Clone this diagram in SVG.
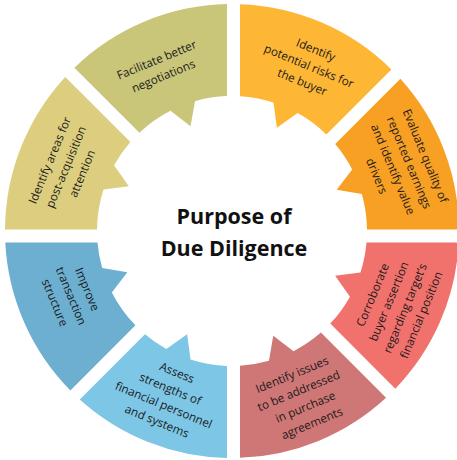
<svg xmlns="http://www.w3.org/2000/svg" width="457" height="460" viewBox="0 0 457 460">
<style>
.lbl{font-family:"Open Sans","Noto Sans","Liberation Sans",sans-serif;font-size:11.7px;fill:#1a1a1a;text-anchor:middle}
.ttl{font-family:"Open Sans","Noto Sans","Liberation Sans",sans-serif;font-size:21.5px;font-weight:700;fill:#111;text-anchor:middle}
</style>
<rect width="457" height="460" fill="#ffffff"/>
<g id="connectors"></g>
<g id="seg-risks">
<path fill="#fdb735" d="M240,4.14 A227,227 0 0 1 391.41,69.39 L326.35,134.45 A135,135 0 0 0 297.65,113.04 L276.86,127.83 L273.5,102.53 A135,135 0 0 0 240,96.24 Z"/>
<text class="lbl" transform="translate(309,66) rotate(22.5)"><tspan x="0" y="-13.5">Identify</tspan><tspan x="0" y="4">potential risks for</tspan><tspan x="0" y="21.5">the buyer</tspan></text>
</g>
<g id="seg-evaluate">
<path fill="#f8a024" d="M400.41,78.79 A227,227 0 0 1 459,229.5 L366.99,229.5 A135,135 0 0 0 361.83,194.01 L336.67,189.77 L352.18,169.49 A135,135 0 0 0 335.21,143.99 Z"/>
<text class="lbl" transform="translate(401,166) rotate(67.5)"><tspan x="0" y="-22.25">Evaluate quality of</tspan><tspan x="0" y="-4.75">reported earnings</tspan><tspan x="0" y="12.75">and identify value</tspan><tspan x="0" y="30.25">drivers</tspan></text>
</g>
<g id="seg-corroborate">
<path fill="#f1716d" d="M458.71,242.5 A227,227 0 0 1 395.34,388.64 L330.27,323.57 A135,135 0 0 0 349.96,296.65 L335.17,275.86 L360.47,272.5 A135,135 0 0 0 366.51,242.5 Z"/>
<text class="lbl" transform="translate(397,305) rotate(-67.5)"><tspan x="0" y="-22.25">Corroborate</tspan><tspan x="0" y="-4.75">buyer assertion</tspan><tspan x="0" y="12.75">regarding target’s</tspan><tspan x="0" y="30.25">financial position</tspan></text>
</g>
<g id="seg-issues">
<path fill="#cf7676" d="M386.04,397.74 A227,227 0 0 1 240,457.86 L240,365.76 A135,135 0 0 0 268.99,360.83 L273.23,335.67 L293.51,351.18 A135,135 0 0 0 320.9,332.6 Z"/>
<text class="lbl" transform="translate(302,399) rotate(-22.5)"><tspan x="0" y="-22.25">Identify issues</tspan><tspan x="0" y="-4.75">to be addressed</tspan><tspan x="0" y="12.75">in purchase</tspan><tspan x="0" y="30.25">agreements</tspan></text>
</g>
<g id="seg-assess">
<path fill="#7dc6e6" d="M227,457.94 A227,227 0 0 1 79.79,399.41 L144.99,334.21 A135,135 0 0 0 166.35,348.96 L187.14,334.17 L190.5,359.47 A135,135 0 0 0 227,365.91 Z"/>
<text class="lbl" transform="translate(167,397) rotate(22.5)"><tspan x="0" y="-22.25">Assess</tspan><tspan x="0" y="-4.75">strengths of</tspan><tspan x="0" y="12.75">financial personnel</tspan><tspan x="0" y="30.25">and systems</tspan></text>
</g>
<g id="seg-improve">
<path fill="#6cafd0" d="M70.39,390.41 A227,227 0 0 1 5.29,242.5 L97.49,242.5 A135,135 0 0 0 102.17,267.99 L127.33,272.23 L111.82,292.51 A135,135 0 0 0 135.45,325.35 Z"/>
<text class="lbl" transform="translate(71,296) rotate(67.5)"><tspan x="0" y="-13.5">Improve</tspan><tspan x="0" y="4">transaction</tspan><tspan x="0" y="21.5">structure</tspan></text>
</g>
<g id="seg-areas">
<path fill="#ddce7f" d="M5,229.5 A227,227 0 0 1 65.26,76.96 L130.4,142.1 A135,135 0 0 0 114.04,165.35 L128.83,186.14 L103.53,189.5 A135,135 0 0 0 97.01,229.5 Z"/>
<text class="lbl" transform="translate(66,167) rotate(-67.5)"><tspan x="0" y="-13.5">Identify areas for</tspan><tspan x="0" y="4">post-acquisition</tspan><tspan x="0" y="21.5">attention</tspan></text>
</g>
<g id="seg-facilitate">
<path fill="#c9c67a" d="M74.36,67.66 A227,227 0 0 1 227,4.06 L227,96.09 A135,135 0 0 0 195.01,101.17 L190.52,126.33 L170.49,110.82 A135,135 0 0 0 139.43,132.73 Z"/>
<text class="lbl" transform="translate(160,68) rotate(-22.5)"><tspan x="0" y="-4.75">Facilitate better</tspan><tspan x="0" y="12.75">negotiations</tspan></text>
</g>
<g id="title">
<text class="ttl" x="234" y="223.5">Purpose of</text>
<text class="ttl" x="234" y="255.5">Due Diligence</text>
</g>
</svg>
